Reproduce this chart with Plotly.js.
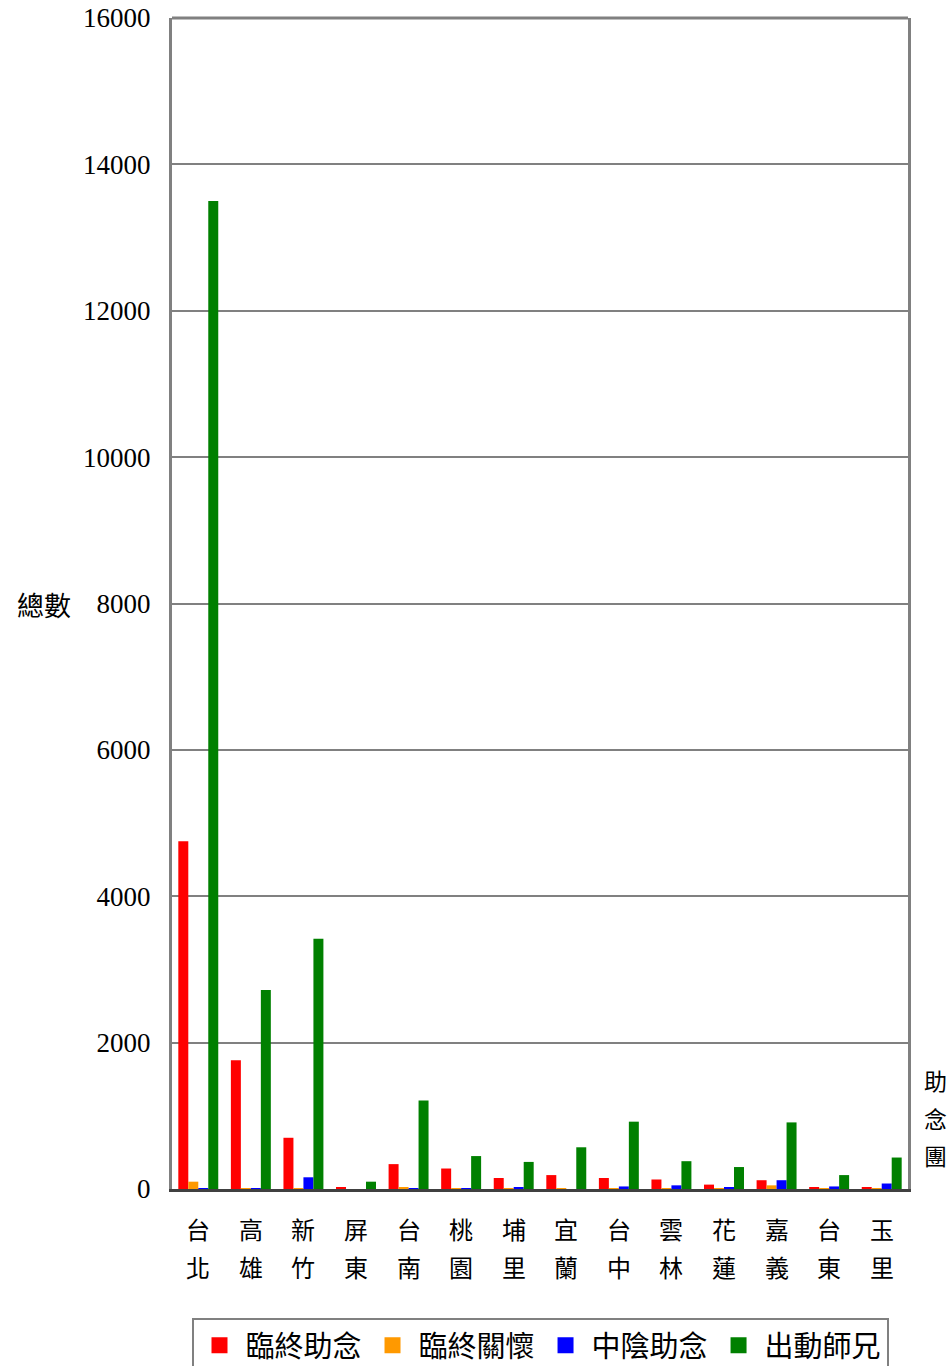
<!DOCTYPE html>
<html><head><meta charset="utf-8">
<script src="https://cdn.plot.ly/plotly-3.0.1.min.js"></script>
<style>body{margin:0;background:#fff}#c{width:952px;height:1366px}</style>
</head><body><div id="c"></div>
<script>
const categories = ["台北","高雄","新竹","屏東","台南","桃園","埔里","宜蘭","台中","雲林","花蓮","嘉義","台東","玉里"];
const seriesNames = ["臨終助念","臨終關懷","中陰助念","出動師兄"];
const linZhongZhuNian = [4750,1760,700,25,340,280,150,190,150,130,60,120,20,20];
const linZhongGuanHuai = [100,5,10,0,15,10,5,10,10,10,5,50,10,5];
const zhongYinZhuNian = [10,10,160,0,10,10,20,0,35,50,20,120,35,75];
const chuDongShiXiong = [13500,2720,3420,100,1210,450,370,570,920,380,300,910,190,430];
const tickVals = [0,2000,4000,6000,8000,10000,12000,14000,16000];
const colors = ["#ff0000","#ff9900","#0000ff","#008000"];
const serie = [linZhongZhuNian, linZhongGuanHuai, zhongYinZhuNian, chuDongShiXiong];
const cjk = "Noto Sans CJK TC";
const traces = serie.map((v,i)=>({type:"bar",name:seriesNames[i],x:categories,y:v,showlegend:false,legendgroup:"g"+i,marker:{color:colors[i],line:{width:0}}}));
seriesNames.forEach((n,i)=>traces.push({type:"scatter",mode:"markers",name:n,x:[categories[0]],y:[null],legendgroup:"g"+i,showlegend:true,
  marker:{symbol:"square",size:16,color:colors[i]}}));
// plot area pixel geometry
const plotTop = 18, plotBottom = 1189, plotH = plotBottom - plotTop;
const py = p => (plotBottom - p)/plotH;
const annotations = [
  {text:"總數",xref:"paper",yref:"paper",x:-0.135,y:py(604),xanchor:"right",yanchor:"middle",showarrow:false,font:{family:cjk,size:27,color:"#000"}}
];
["助","念","團"].forEach((ch,k)=>annotations.push({text:ch,xref:"paper",yref:"paper",x:1.038,y:py(1080+k*37.5),xanchor:"center",yanchor:"middle",showarrow:false,font:{family:cjk,size:23,color:"#000"}}));
categories.forEach(c=>{
  [...c].forEach((ch,k)=>annotations.push({text:ch,x:c,xref:"x",yref:"paper",y:py(1228+k*38),xanchor:"center",yanchor:"middle",showarrow:false,font:{family:cjk,size:24,color:"#000"}}));
});
const layout = {
  width:952,height:1366,
  margin:{l:172,r:44,t:plotTop,b:1366-plotBottom},
  paper_bgcolor:"#fff",plot_bgcolor:"#fff",
  barmode:"group",bargap:0.24,bargroupgap:0,
  showlegend:true,
  legend:{orientation:"h",x:0.5,xref:"paper",xanchor:"center",yref:"container",y:48/1366,yanchor:"top",
    font:{family:cjk,size:29,color:"#000"},bordercolor:"#808080",borderwidth:2,
    itemwidth:42,traceorder:"normal"},
  xaxis:{type:"category",range:[-0.5,categories.length-0.5],autorange:false,showticklabels:false,showline:true,linecolor:"#404040",linewidth:3,
    mirror:false,ticks:"",showgrid:false},
  yaxis:{range:[0,16000],tickvals:tickVals,ticktext:tickVals.map(String),
    tickfont:{family:"Liberation Serif",size:27,color:"#000"},showgrid:true,gridcolor:"#808080",gridwidth:2,
    showline:true,linecolor:"#808080",linewidth:3,mirror:true,ticks:"",ticklabelstandoff:13,zeroline:false},
  shapes:[{type:"line",xref:"paper",yref:"paper",x0:0,x1:1,y0:1,y1:1,line:{color:"#808080",width:3}}],
  annotations:annotations
};
Plotly.newPlot("c",traces,layout,{displayModeBar:false});
</script></body></html>
